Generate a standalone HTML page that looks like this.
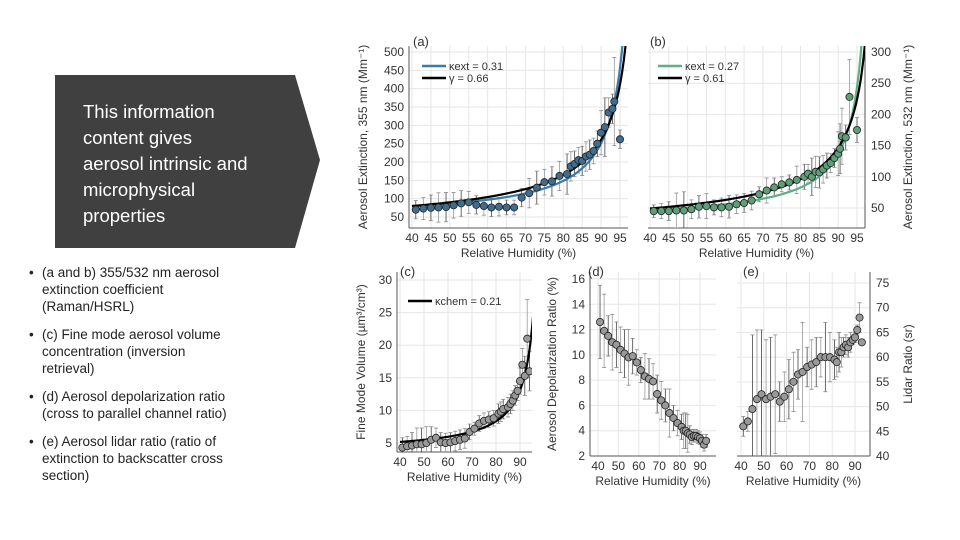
<!DOCTYPE html>
<html><head><meta charset="utf-8"><style>
body{margin:0;background:#fff;font-family:"Liberation Sans",sans-serif}
#wrap{position:relative;width:960px;height:540px;overflow:hidden;background:#fff}
.bul{position:absolute;left:29px;font-size:13.5px;line-height:17px;color:#222;white-space:nowrap}
.bul span{position:absolute;left:0}
.bul div{margin-left:13px}
</style></head><body>
<div id="wrap">
<svg width="330" height="260" style="position:absolute;left:0;top:0"><polygon points="55,75 295,75 320,160 295,248 55,248" fill="#404040"/></svg>
<div style="position:absolute;left:83px;top:99px;color:#fff;font-size:18.5px;line-height:26px;font-weight:300;white-space:nowrap">This information<br>content gives<br>aerosol intrinsic and<br>microphysical<br>properties</div>
<div class="bul" style="top:264px"><span>•</span><div>(a and b) 355/532 nm aerosol<br>extinction coefficient<br>(Raman/HSRL)</div></div>
<div class="bul" style="top:326px"><span>•</span><div>(c) Fine mode aerosol volume<br>concentration (inversion<br>retrieval)</div></div>
<div class="bul" style="top:388px"><span>•</span><div>(d) Aerosol depolarization ratio<br>(cross to parallel channel ratio)</div></div>
<div class="bul" style="top:433px"><span>•</span><div>(e) Aerosol lidar ratio (ratio of<br>extinction to backscatter cross<br>section)</div></div>
<svg id="ch" width="960" height="540" style="position:absolute;left:0;top:0"></svg>
</div>
<script>
// Panel (a) data
const rhA=[41,43,45,47,49,51,53,55,57,59,61,63,65,67,69,71,73,75,77,79,81,82,83,84,85,86,87,88,89,90,91,92,93,93.5,95];
const extA=[70,73,75,76,77,82,87,90,83,80,76,78,76,76,103,115,130,145,147,162,167,188,195,205,203,215,220,230,250,280,295,335,345,365,262];
const errA=[25,30,35,40,40,35,35,30,25,25,25,25,20,20,25,40,45,35,40,40,55,40,35,35,40,40,40,35,35,60,80,40,40,120,25];
// Panel (b) data
const rhB=[41,43,45,47,49,51,53,55,57,59,61,63,65,67,69,71,73,75,77,79,81,82,83,84,85,86,87,88,89,90,90.5,91,92,93,95];
const extB=[45,45,45,46,46,48,52,53,51,51,52,56,58,62,72,78,83,88,91,95,100,105,100,108,107,112,118,122,130,137,145,165,163,228,175];
const errB=[10,12,15,28,30,15,18,20,12,15,18,15,15,15,12,20,15,12,12,22,20,15,30,25,25,22,20,15,15,35,40,45,20,60,20];
// Panel (c) data
const rhC=[41,43,45,47,49,51,53,55,57,59,61,63,65,67,69,71,73,75,77,79,81,82,83,85,86,87,88,89,90,91,92,93,94];
const volC=[4.3,4.5,4.6,4.8,4.8,5.0,5.5,5.8,5.1,5.0,5.1,5.3,5.5,5.7,6.7,7.2,8.0,8.4,8.6,8.8,9.5,9.8,10.2,10.5,11,11.5,12.3,13,14.5,17,15.3,21,16];
const errC=[1.5,1.5,2,2.5,2.5,2.5,2,1.5,1.5,1.5,1.5,1.5,1.5,1.5,1.2,1,1.2,1.2,1.2,1.2,1.5,1.5,1.5,1.5,1.5,1.5,1.5,1.5,2,2.5,3,6,3];
// Panel (d) data
const rhD=[41,43,45,47,49,51,53,55,57,59,61,63,65,67,69,71,73,75,77,79,81,82,83,84,85,86,87,88,89,90,91,92,93];
const depD=[12.6,11.9,11.5,11.0,10.8,10.4,10.1,9.8,9.9,9.4,8.8,8.3,8.1,7.9,6.9,6.4,6.0,5.4,5.0,4.6,4.3,4.0,4.0,3.8,3.7,3.5,3.6,3.6,3.5,3.4,3.2,2.9,3.2];
const errD=[2.9,2.9,1.6,2.2,1.8,1.8,1.9,2.2,1.4,1.0,1.0,1.8,1.6,1.4,1.5,1.5,1.3,1.9,1.0,1.0,1.0,1.4,1.4,1.5,0.7,0.6,0.5,0.5,0.5,0.5,0.5,0.5,0.5];
// Panel (e) data
const rhE=[41,43,45,47,49,51,53,55,57,59,61,63,65,67,69,71,73,75,77,79,81,82,83,84,85,86,87,88,89,90,91,92,93];
const lrE=[46,47,49.5,51.5,52.5,51.5,52,52.5,51,52,53.5,55,56.5,57,58,58.5,59,60,60,60,59.5,59,61,61,62,62.5,62,63,63.5,64,65.5,68,63];
const errE=[2,2,15,14,13,12,12,12,4,5,6,6,5,10,4,5,5,4,7,5,4,3,4,3,2,2,2,2,1,1,1,3,0.5];
// Fit parameters
const kapA=[0.31], gamA=[0.66], kapB=[0.27], gamB=[0.61], kapC=[0.21];
const svg=document.getElementById('ch');
const NS='http://www.w3.org/2000/svg';
function mk(tag,at,parent){const e=document.createElementNS(NS,tag);for(const k in at)e.setAttribute(k,at[k]);(parent||svg).appendChild(e);return e;}
function txt(x,y,s,size,anchor,parent,rot){const e=mk('text',{x:x,y:y,'font-size':size,'text-anchor':anchor||'middle',fill:'#333','font-family':'Liberation Sans, sans-serif'},parent);if(rot)e.setAttribute('transform','rotate('+rot+' '+x+' '+y+')');e.textContent=s;return e;}
function lin(d0,d1,r0,r1){return v=>r0+(v-d0)*(r1-r0)/(d1-d0);}

function panel(o){
  const g=mk('g',{});
  
  
  const X=lin(o.xd[0],o.xd[1],o.xr[0],o.xr[1]),Y=lin(o.yd[0],o.yd[1],o.yr[0],o.yr[1]);
  for(const t of o.xt){const l=mk('line',{x1:X(t),x2:X(t),y1:o.box[1],y2:o.box[3],stroke:'#e6e6e6','stroke-width':1},g);
    
    }
  for(const t of o.yt){const l=mk('line',{x1:o.box[0],x2:o.box[2],y1:Y(t),y2:Y(t),stroke:'#e6e6e6','stroke-width':1},g);
    
    }
  const ax=o.right?o.box[2]:o.box[0];
  const ya=mk('line',{x1:ax,x2:ax,y1:o.box[1],y2:o.box[3],stroke:'#555','stroke-width':1},g);
  
  
  const xa=mk('line',{x1:o.box[0],x2:o.box[2],y1:o.box[3],y2:o.box[3],stroke:'#555','stroke-width':1},g);
  
  
  for(const t of o.xt){const e=txt(X(t),o.box[3]+14,String(t),12,'middle',g);
    
    }
  for(const t of o.yt){const e=txt(o.right?ax+6:ax-5,Y(t)+4,String(t),12,o.right?'start':'end',g);
    
    }
  const xt=txt((o.box[0]+o.box[2])/2,o.box[3]+29,'Relative Humidity (%)',12,'middle',g);
  
  
  const yt=txt(o.ytx,(o.box[1]+o.box[3])/2,o.ytitle,12,'middle',g,-90);
  
  
  const lb=txt(o.lab[0],o.lab[1],o.label,13,'start',g);
  
  
  const cid='c'+o.name;
  const cp=mk('clipPath',{id:cid},g);mk('rect',{x:o.box[0],y:o.box[1],width:o.box[2]-o.box[0],height:o.box[3]-o.box[1]},cp);
  const pg=mk('g',{'clip-path':'url(#'+cid+')'},g);
  o.xs.forEach((x,i)=>{const e=mk('line',{x1:X(x),x2:X(x),y1:Y(o.ys[i]-o.err[i]),y2:Y(o.ys[i]+o.err[i]),stroke:i%2?'#999':'#444','stroke-width':0.8},pg);
    
    
    for(const s of [-1,1]){mk('line',{x1:X(x)-2,x2:X(x)+2,y1:Y(o.ys[i]+s*o.err[i]),y2:Y(o.ys[i]+s*o.err[i]),stroke:'#888','stroke-width':0.8},pg);}});
  (o.fits||[]).forEach(f=>{let d='';for(let r=40;r<=97.5;r+=0.25){const v=f.fn(r);d+=(d?'L':'M')+X(r).toFixed(1)+','+Y(Math.min(v,o.yd[1]*3)).toFixed(1);}
    const p=mk('path',{d:d,fill:'none',stroke:f.c,'stroke-width':2.2},pg);
    
    });
  o.xs.forEach((x,i)=>{const c=mk('circle',{cx:X(x),cy:Y(o.ys[i]),r:3.6,fill:o.fill,stroke:'#222','stroke-width':0.8},pg);
    
    });
  (o.leg||[]).forEach((L,i)=>{const y=o.legxy[1]+i*12;
    const l=mk('line',{x1:o.legxy[0],x2:o.legxy[0]+24,y1:y,y2:y,stroke:L.c,'stroke-width':2.5},g);
    
    
    const t=txt(o.legxy[0]+27,y+4,L.t,11,'start',g);
    
    });
}
const kfit=(A,k)=>r=>A*(1+k*r/(100-r));
const gfit=(A,g)=>r=>A*Math.pow(1-r/100,-g);
panel({name:'panel-a',xd:[40,95],xr:[412,620],yd:[50,500],yr:[217,52],box:[409,46,628,228],xt:[40,45,50,55,60,65,70,75,80,85,90,95],yt:[50,100,150,200,250,300,350,400,450,500],
  xs:rhA,ys:extA,err:errA,fill:'#3f6d8e',ytitle:'Aerosol Extinction, 355 nm (Mm⁻¹)',ytx:367,lab:[413,46],label:'(a)',
  fits:[{fn:kfit(66.3,kapA[0]),c:'#3b7ba6',name:'kappa-fit-line'},{fn:gfit(57,gamA[0]),c:'#000',name:'gamma-fit-line'}],
  leg:[{c:'#3b7ba6',t:'κext = '+kapA[0]},{c:'#000',t:'γ = '+gamA[0]}],legxy:[422,66]});
panel({name:'panel-b',xd:[40,95],xr:[650,857],yd:[50,300],yr:[208,52],box:[648,46,865,228],xt:[40,45,50,55,60,65,70,75,80,85,90,95],yt:[50,100,150,200,250,300],right:true,
  xs:rhB,ys:extB,err:errB,fill:'#5d9f76',ytitle:'Aerosol Extinction, 532 nm (Mm⁻¹)',ytx:912,lab:[650,46],label:'(b)',
  fits:[{fn:kfit(39.8,kapB[0]),c:'#5fae86',name:'kappa-fit-line'},{fn:gfit(36,gamB[0]),c:'#000',name:'gamma-fit-line'}],
  leg:[{c:'#5fae86',t:'κext = '+kapB[0]},{c:'#000',t:'γ = '+gamB[0]}],legxy:[658,66]});
panel({name:'panel-c',xd:[40,90],xr:[400,520],yd:[5,30],yr:[443,280],box:[397,272,532,452],xt:[40,50,60,70,80,90],yt:[5,10,15,20,25,30],
  xs:rhC,ys:volC,err:errC,fill:'#999',ytitle:'Fine Mode Volume (µm³/cm³)',ytx:365,lab:[400,276],label:'(c)',
  fits:[{fn:kfit(4.53,kapC[0]),c:'#000',name:'kappa-chem-fit-line'}],
  leg:[{c:'#000',t:'κchem = '+kapC[0]}],legxy:[408,301]});
panel({name:'panel-d',xd:[40,90],xr:[598,700],yd:[2,16],yr:[456,279],box:[590,272,716,456],xt:[40,50,60,70,80,90],yt:[2,4,6,8,10,12,14,16],
  xs:rhD,ys:depD,err:errD,fill:'#999',ytitle:'Aerosol Depolarization Ratio (%)',ytx:556,lab:[588,276],label:'(d)'});
panel({name:'panel-e',xd:[40,90],xr:[741,855],yd:[40,75],yr:[456,283],box:[737,272,870,456],xt:[40,50,60,70,80,90],yt:[40,45,50,55,60,65,70,75],right:true,
  xs:rhE,ys:lrE,err:errE,fill:'#999',ytitle:'Lidar Ratio (sr)',ytx:912,lab:[743,276],label:'(e)'});
</script>
</body></html>
